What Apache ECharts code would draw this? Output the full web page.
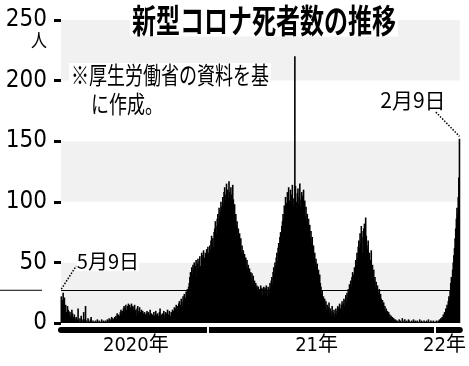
<!DOCTYPE html>
<html>
<head>
<meta charset="utf-8">
<script src="https://cdn.jsdelivr.net/npm/echarts@6/dist/echarts.min.js"></script>
<style>
html, body { margin: 0; padding: 0; background: #fff; }
#chart { width: 469px; height: 366px; }
</style>
</head>
<body>
<div id="chart"></div>
<script>
// daily deaths, 2020-05-09 .. 2022-02-09
var may20 = [22, 14, 19, 25, 18, 21, 12, 15, 9, 8, 14, 11, 10, 7, 9, 4, 6, 11, 8, 5, 3, 7, 4];
var jun20 = [2, 5, 1, 3, 12, 2, 0, 4, 1, 6, 3, 0, 2, 9, 1, 3, 14, 2, 1, 0, 4, 2, 1, 0, 3, 5, 1, 0, 2, 1];
var jul20 = [1, 0, 2, 1, 0, 3, 1, 0, 2, 1, 0, 1, 3, 0, 1, 2, 0, 1, 2, 0, 1, 3, 2, 0, 4, 1, 2, 3, 5, 2, 4];
var aug20 = [3, 2, 5, 4, 6, 3, 8, 5, 7, 4, 6, 9, 11, 7, 10, 8, 12, 14, 9, 13, 15, 11, 8, 14, 16, 12, 15, 13, 10, 16, 12];
var sep20 = [14, 10, 13, 15, 9, 11, 6, 12, 14, 8, 10, 13, 7, 9, 11, 6, 10, 8, 5, 9, 7, 4, 8, 10, 6, 9, 5, 7, 11, 6];
var oct20 = [8, 5, 7, 4, 9, 6, 3, 10, 7, 5, 8, 4, 6, 9, 12, 5, 7, 3, 8, 6, 10, 4, 7, 9, 5, 8, 11, 6, 7, 10, 5];
var nov20 = [6, 9, 7, 11, 8, 10, 13, 9, 12, 15, 11, 14, 10, 16, 18, 13, 15, 20, 17, 14, 22, 19, 24, 18, 21, 26, 23, 28, 25, 30];
var dec20 = [33, 38, 42, 35, 46, 40, 48, 44, 50, 42, 47, 52, 38, 49, 53, 45, 51, 55, 47, 43, 58, 52, 56, 60, 49, 54, 58, 46, 61, 57, 63];
var jan21 = [58, 52, 64, 60, 68, 72, 65, 70, 63, 75, 78, 84, 80, 74, 86, 90, 82, 95, 88, 92, 100, 96, 85, 104, 98, 108, 112, 101, 106, 115, 97];
var feb21 = [110, 104, 117, 108, 99, 112, 106, 95, 114, 102, 92, 98, 86, 90, 80, 84, 72, 78, 66, 74, 62, 70, 58, 64, 55, 60, 52, 57];
var mar21 = [50, 54, 46, 52, 44, 48, 40, 45, 38, 42, 36, 41, 33, 39, 30, 35, 28, 33, 29, 31, 26, 30, 24, 28, 27, 31, 25, 29, 23, 28, 30];
var apr21 = [26, 29, 24, 31, 27, 22, 30, 28, 25, 33, 29, 35, 38, 32, 42, 46, 40, 50, 47, 54, 58, 51, 62, 66, 59, 71, 75, 68, 80, 84];
var may21 = [90, 86, 97, 92, 104, 88, 99, 108, 95, 112, 101, 93, 110, 106, 98, 114, 103, 96, 102, 220, 113, 100, 94, 107, 111, 98, 104, 115, 96, 102, 108];
var jun21 = [105, 98, 110, 92, 101, 88, 96, 84, 90, 79, 86, 74, 81, 70, 76, 66, 71, 60, 64, 55, 58, 50, 53, 46, 49, 41, 44, 37, 40, 33];
var jul21 = [30, 24, 27, 19, 22, 16, 20, 14, 18, 11, 15, 9, 13, 17, 8, 12, 10, 6, 14, 9, 7, 11, 5, 8, 12, 7, 10, 14, 9, 13, 16];
var aug21 = [12, 9, 15, 18, 11, 16, 20, 14, 19, 23, 17, 25, 21, 28, 24, 32, 27, 35, 30, 38, 42, 34, 40, 46, 44, 52, 48, 58, 54, 63, 68];
var sep21 = [62, 74, 66, 80, 71, 58, 76, 78, 82, 70, 87, 72, 64, 61, 68, 50, 58, 46, 52, 60, 42, 48, 39, 44, 35, 38, 30, 34, 27, 31];
var oct21 = [26, 22, 28, 18, 24, 20, 15, 19, 13, 17, 11, 14, 9, 12, 8, 10, 6, 9, 5, 7, 4, 6, 3, 5, 2, 4, 3, 1, 3, 2, 1];
var nov21 = [2, 1, 0, 3, 1, 2, 0, 1, 4, 2, 0, 1, 3, 1, 0, 2, 1, 0, 3, 2, 1, 0, 1, 2, 0, 1, 3, 0, 1, 2];
var dec21 = [1, 0, 2, 1, 0, 1, 3, 0, 1, 2, 0, 1, 0, 2, 1, 0, 1, 2, 0, 1, 3, 0, 1, 0, 2, 1, 0, 1, 2, 0, 1];
var jan22 = [1, 0, 2, 1, 0, 2, 1, 3, 2, 4, 3, 5, 4, 7, 6, 9, 8, 12, 10, 15, 13, 18, 22, 20, 27, 33, 38, 35, 44, 50, 56];
var feb22 = [62, 70, 78, 86, 95, 90, 104, 120, 152];

var yearLabels = ['2020年', '21年', '22年'];
var refLevel = 27;   // thin rule across the chart

var DAY = 86400000;
var startDay = Date.UTC(2020, 4, 9);
var months = [may20, jun20, jul20, aug20, sep20, oct20, nov20, dec20,
  jan21, feb21, mar21, apr21, may21, jun21, jul21, aug21, sep21, oct21, nov21, dec21,
  jan22, feb22];
var deaths = [].concat.apply([], months);
var lastDay = startDay + (deaths.length - 1) * DAY;
var seriesData = deaths.map(function (v, i) { return [startDay + i * DAY, v]; });

var yearLabelDays = [Date.UTC(2020, 8, 6), Date.UTC(2021, 5, 24), Date.UTC(2022, 0, 16)];
var yearGaps = [Date.UTC(2020, 11, 31, 12), Date.UTC(2021, 11, 31, 12)];

var narrow = '"Liberation Sans Narrow", "DejaVu Sans Condensed", "Noto Sans CJK JP", sans-serif';
var cjk = '"Noto Sans CJK JP", sans-serif';

var chart = echarts.init(document.getElementById('chart'));
var option = {
  animation: false,
  backgroundColor: '#fff',
  grid: { left: 61, right: 6, top: 20, bottom: 43 },
  xAxis: [{
    type: 'value',
    position: 'bottom',
    min: startDay - DAY / 2,
    max: lastDay + DAY / 2,
    offset: 7,
    axisLine: { show: true, onZero: false, lineStyle: { color: '#000', width: 6 } },
    axisTick: { show: false },
    splitLine: { show: false },
    axisLabel: {
      customValues: yearLabelDays,
      formatter: function (v) { return yearLabels[new Date(v).getUTCFullYear() - 2020]; },
      margin: 6,
      color: '#000',
      fontFamily: narrow,
      fontSize: 20
    }
  }, {
    type: 'value',
    position: 'bottom',
    min: startDay - DAY / 2,
    max: lastDay + DAY / 2,
    offset: 4,
    z: 5,
    axisLine: { show: false, onZero: false },
    axisTick: { show: true, customValues: yearGaps, length: 6, lineStyle: { color: '#fff', width: 2 } },
    axisLabel: { show: false },
    splitLine: { show: false }
  }],
  yAxis: {
    type: 'value',
    min: 0,
    max: 250,
    interval: 50,
    axisLine: { show: true, lineStyle: { color: 'rgba(0,0,0,0)' } },
    axisTick: { show: true, length: 7, lineStyle: { color: '#000', width: 3 } },
    axisLabel: { margin: 14, color: '#000', fontFamily: narrow, fontSize: 24 },
    splitLine: { show: false },
    splitArea: { show: true, areaStyle: { color: ['#f1f1f1', '#fff'] } }
  },
  series: [{
    type: 'bar',
    data: seriesData,
    barWidth: 1.6,
    itemStyle: { color: '#000' },
    markLine: {
      silent: true,
      symbol: 'none',
      label: { show: false },
      lineStyle: { color: '#000', width: 1.5, type: 'dotted' },
      data: [
        { yAxis: refLevel, lineStyle: { color: '#000', width: 1, type: 'solid' } },
        [{ coord: [startDay, refLevel + 1] }, { coord: [Date.UTC(2020, 5, 2), 47] }],
        [{ coord: [Date.UTC(2022, 0, 2), 174] }, { coord: [lastDay, 154] }]
      ]
    },
    markPoint: {
      symbol: 'circle',
      symbolSize: 0,
      data: [{
        coord: [Date.UTC(2020, 5, 3), 51],
        label: { show: true, position: 'right', distance: 0, formatter: '5月9日',
          color: '#000', fontFamily: cjk, fontSize: 20, backgroundColor: '#fff' }
      }, {
        coord: [Date.UTC(2021, 10, 26), 184],
        label: { show: true, position: 'inside', formatter: '2月9日',
          color: '#000', fontFamily: cjk, fontSize: 21, backgroundColor: '#fff' }
      }]
    }
  }],
  graphic: [{
    id: 'title', type: 'text', x: 130, y: 4, scaleY: 1.35, z: 10,
    style: { text: '新型コロナ死者数の推移', fill: '#000', font: 'bold 24px ' + cjk,
      backgroundColor: '#fff', padding: [0, 2] }
  }, {
    id: 'unit', type: 'text', x: 31, y: 31, scaleY: 1.15, z: 10,
    style: { text: '人', fill: '#000', font: '16px ' + cjk }
  }, {
    id: 'note1', type: 'text', x: 69, y: 63, scaleY: 1.3, z: 10,
    style: { text: '※厚生労働省の資料を基', fill: '#000', font: '18px ' + cjk,
      backgroundColor: '#fff', padding: [0, 2] }
  }, {
    id: 'note2', type: 'text', x: 89, y: 92, scaleY: 1.3, z: 10,
    style: { text: 'に作成。', fill: '#000', font: '18px ' + cjk,
      backgroundColor: '#fff', padding: [0, 2] }
  }]
};
chart.setOption(option);

// the rule runs out past the axis labels to the left edge
var ruleY = chart.convertToPixel({ yAxisIndex: 0 }, refLevel);
chart.setOption({
  graphic: [{
    id: 'ruleLeft', type: 'line', z: 10,
    shape: { x1: 0, y1: ruleY, x2: 42, y2: ruleY },
    style: { stroke: '#000', lineWidth: 1 }
  }]
});
</script>
</body>
</html>
